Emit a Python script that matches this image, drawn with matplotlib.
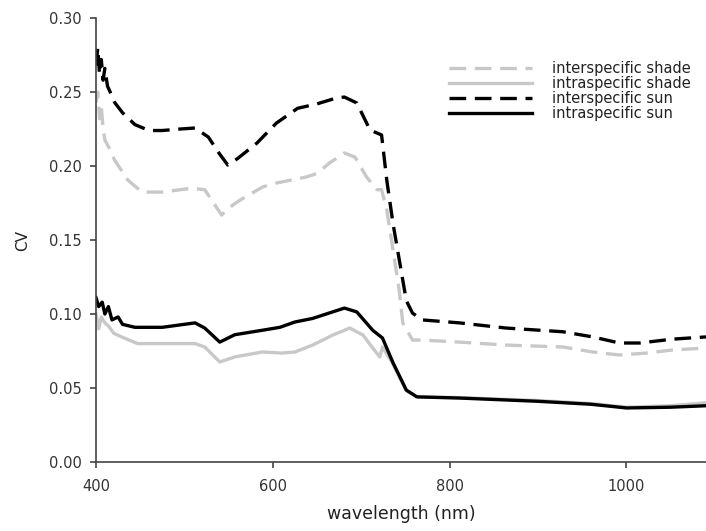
import numpy as np
import matplotlib
matplotlib.use("Agg")
import matplotlib.pyplot as plt

plt.rcParams['font.family'] = ['DejaVu Sans']

# values
wl_inter_sun = [400, 402, 404, 406, 408, 410, 413, 416, 421, 430, 444, 460, 475, 495, 512, 527,
                540, 549, 560, 582, 604, 628, 650, 672, 681, 695, 710, 723, 729, 736, 751, 758,
                769, 811, 864, 928, 962, 992, 1015, 1052, 1090]
cv_inter_sun = [0.268, 0.280, 0.262, 0.272, 0.258, 0.266, 0.254, 0.250, 0.243, 0.236, 0.228,
                0.224, 0.224, 0.225, 0.2257, 0.2196, 0.208, 0.2007, 0.205, 0.2155, 0.229, 0.239,
                0.242, 0.246, 0.2466, 0.2426, 0.2243, 0.221, 0.19, 0.161, 0.109, 0.1006, 0.096,
                0.094, 0.0905, 0.088, 0.0845, 0.0804, 0.0804, 0.083, 0.0845]

wl_inter_shade = [400, 402, 404, 406, 408, 410, 415, 421, 436, 452, 475, 508, 523, 542, 551, 563,
                  589, 604, 638, 650, 664, 681, 693, 706, 718, 723, 729, 743, 747, 758, 769, 811,
                  864, 928, 962, 992, 1023, 1052, 1090]
cv_inter_shade = [0.243, 0.250, 0.232, 0.240, 0.225, 0.2176, 0.212, 0.204, 0.1905, 0.1824, 0.1824,
                  0.185, 0.184, 0.1669, 0.172, 0.177, 0.186, 0.1885, 0.1926, 0.195, 0.202, 0.2088,
                  0.206, 0.1926, 0.184, 0.184, 0.170, 0.116, 0.094, 0.0824, 0.0824, 0.081, 0.079,
                  0.0777, 0.0743, 0.0723, 0.0736, 0.0757, 0.077]

wl_intra_sun = [400, 403, 407, 410, 414, 418, 425, 430, 444, 475, 512, 523, 540, 557, 588, 608,
                625, 645, 664, 681, 695, 713, 724, 736, 751, 763, 811, 900, 960, 1000, 1050, 1090]
cv_intra_sun = [0.111, 0.105, 0.108, 0.100, 0.105, 0.096, 0.098, 0.093, 0.091, 0.091, 0.094,
                0.0905, 0.081, 0.086, 0.089, 0.091, 0.0946, 0.097, 0.1007, 0.104, 0.1014, 0.089,
                0.0838, 0.067, 0.0486, 0.044, 0.0432, 0.041, 0.039, 0.0365, 0.037, 0.038]

wl_intra_shade = [400, 403, 406, 410, 414, 420, 429, 447, 475, 512, 523, 540, 557, 588, 610,
                  625, 645, 668, 687, 702, 713, 721, 724, 736, 751, 763, 811, 900, 960, 1000,
                  1050, 1090]
cv_intra_shade = [0.100, 0.090, 0.098, 0.094, 0.092, 0.087, 0.0845, 0.080, 0.080, 0.080, 0.0777,
                  0.0676, 0.071, 0.0743, 0.0736, 0.0743, 0.079, 0.0858, 0.0905, 0.0858, 0.077,
                  0.071, 0.0777, 0.066, 0.048, 0.044, 0.0435, 0.0415, 0.0395, 0.037, 0.038, 0.040]

grey = '#c8c8c8'
axcol = '#444444'

fig = plt.figure(figsize=(7.06, 5.31), dpi=100)
ax = fig.add_axes([0.136, 0.130, 0.864, 0.836])

ax.plot(wl_inter_shade, cv_inter_shade, color=grey, lw=2.4, dashes=(5, 2.6),
        label='interspecific shade')
ax.plot(wl_intra_shade, cv_intra_shade, color=grey, lw=2.4, label='intraspecific shade')
ax.plot(wl_inter_sun, cv_inter_sun, color='black', lw=2.4, dashes=(5, 2.6),
        label='interspecific sun')
ax.plot(wl_intra_sun, cv_intra_sun, color='black', lw=2.4, label='intraspecific sun')

ax.set_xlim(400, 1090)
ax.set_ylim(0, 0.30)
ax.set_xticks([400, 600, 800, 1000])
ax.set_yticks(np.arange(0, 0.31, 0.05))
ax.yaxis.set_major_formatter(matplotlib.ticker.FormatStrFormatter('%.2f'))
for s in ['top', 'right']:
    ax.spines[s].set_visible(False)
for s in ['left', 'bottom']:
    ax.spines[s].set_color(axcol)
    ax.spines[s].set_linewidth(1.2)
ax.tick_params(direction='out', length=4.3, width=1.2, color=axcol,
               labelsize=10.5, labelcolor='#333333')
ax.tick_params(axis='y', pad=5.8)
ax.tick_params(axis='x', pad=8)
ax.set_xlabel('wavelength (nm)', fontsize=12.5, color='#222222', labelpad=8)
ax.set_ylabel('CV', fontsize=11, color='#222222', labelpad=14)

ax.legend(loc='upper right', bbox_to_anchor=(0.99, 0.922), frameon=False, fontsize=10.5,
          handlelength=5.7, handletextpad=1.4, labelspacing=0.0, labelcolor='#222222',
          borderaxespad=0.2)

fig.savefig('out.png', dpi=100)
